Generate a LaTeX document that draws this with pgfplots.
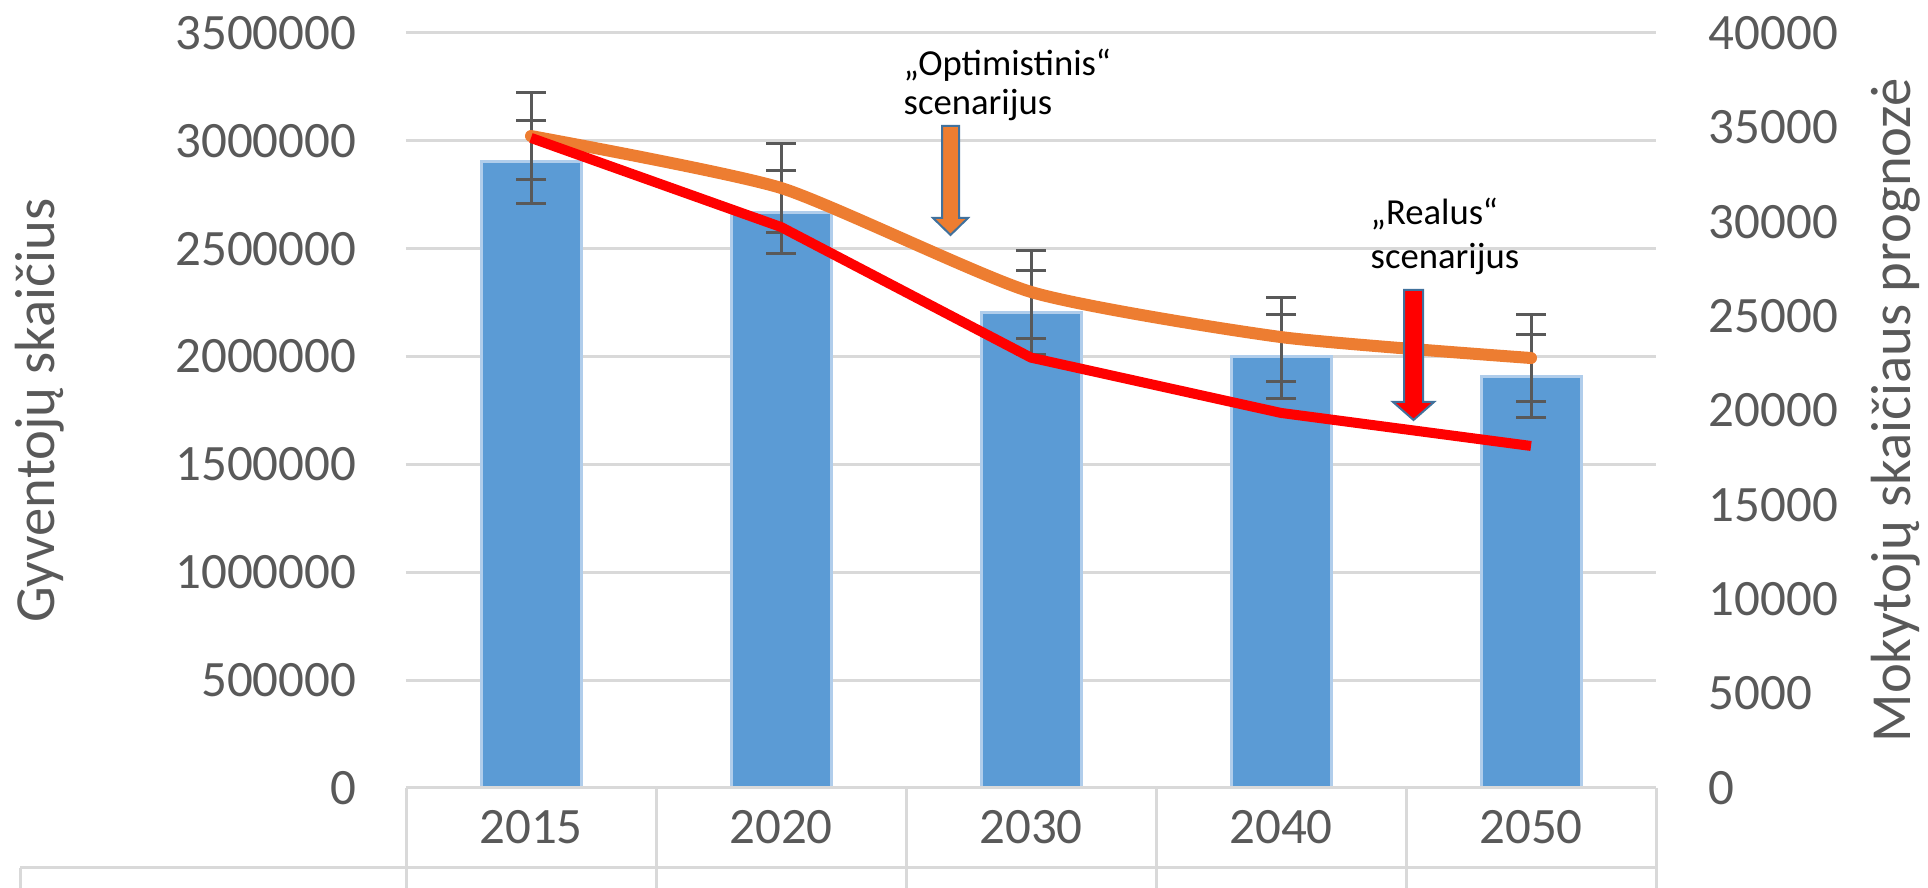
\documentclass[border=0pt]{standalone}
\usepackage{pgfplots}
\pgfplotsset{compat=1.18}
\usepackage{fontspec}
\setmainfont{Carlito}
\definecolor{barblue}{HTML}{5B9BD5}
\definecolor{barborder}{HTML}{B0CDEB}
\definecolor{orangeL}{HTML}{ED7D31}
\definecolor{tickgray}{HTML}{595959}
\definecolor{gridgray}{HTML}{D9D9D9}
\definecolor{ebgray}{HTML}{595959}
\definecolor{arrowblue}{HTML}{41719C}
\begin{document}
\begin{tikzpicture}
\useasboundingbox (0,0) rectangle (578.4pt,266.4pt);
% left axis: population (bars)
\begin{axis}[
  at={(121.8pt,30pt)}, anchor=south west,
  scale only axis, width=375pt, height=226.5pt,
  xmin=-0.5, xmax=4.5, ymin=0, ymax=3500000,
  scaled y ticks=false,
  axis line style={draw=none}, tick style={draw=none}, major tick length=0pt,
  ytick={0,500000,1000000,1500000,2000000,2500000,3000000,3500000},
  yticklabels={0,500000,1000000,1500000,2000000,2500000,3000000,3500000},
  xtick={0,1,2,3,4}, xticklabels={2015,2020,2030,2040,2050},
  ymajorgrids, grid style={color=gridgray, line width=0.9pt},
  ticklabel style={font=\fontsize{15.3}{18}\selectfont, text=tickgray},
  yticklabel style={anchor=east, inner sep=0pt, xshift=-14.7pt},
  xticklabel style={anchor=center, inner sep=0pt, yshift=-11.7pt},
  every axis y label/.style={at={(axis description cs:-0.2808,0.5)}, anchor=base, rotate=90,
     font=\fontsize{17}{20}\selectfont, text=tickgray},
  ylabel={Gyventojų skaičius},
]
\addplot[ybar, bar width=30pt, fill=barblue, draw=barborder, line width=0.9pt]
  coordinates {(0,2906000) (1,2670000) (2,2205000) (3,2001000) (4,1908000)};
\end{axis}
% right axis: teachers (lines)
\begin{axis}[
  at={(121.8pt,30pt)}, anchor=south west,
  scale only axis, width=375pt, height=226.5pt,
  xmin=-0.5, xmax=4.5, ymin=0, ymax=40000,
  scaled y ticks=false,
  axis x line=none, axis y line*=right,
  axis line style={draw=none}, tick style={draw=none}, major tick length=0pt,
  ytick={0,5000,10000,15000,20000,25000,30000,35000,40000},
  yticklabels={0,5000,10000,15000,20000,25000,30000,35000,40000},
  ticklabel style={font=\fontsize{15.3}{18}\selectfont, text=tickgray},
  yticklabel style={anchor=west, inner sep=0pt, xshift=15.6pt},
  every axis y label/.style={at={(axis description cs:1.2032,0.5)}, anchor=base, rotate=90,
     font=\fontsize{17}{20}\selectfont, text=tickgray},
  ylabel={Mokytojų skaičiaus prognozė},
]
\addplot[draw=none, mark=none, forget plot,
  error bars/.cd, y dir=both, y explicit,
  error bar style={draw=ebgray, solid, line width=0.9pt},
  error mark options={rotate=90, mark size=4.5pt, line width=0.9pt, draw=ebgray}]
  coordinates {(0,33930) +- (0,2940) (1,31230) +- (0,2890) (2,25720) +- (0,2780) (3,23310) +- (0,2700) (4,22380) +- (0,2730)};
\addplot[draw=none, mark=none, forget plot,
  error bars/.cd, y dir=both, y explicit,
  error bar style={draw=ebgray, solid, line width=0.9pt},
  error mark options={rotate=90, mark size=4.5pt, line width=0.9pt, draw=ebgray}]
  coordinates {(0,33780) +- (0,1560) (1,31070) +- (0,1620) (2,25640) +- (0,1800) (3,23310) +- (0,1800) (4,22250) +- (0,1775)};
\addplot[color=orangeL, line width=3.6pt, line cap=round, line join=round, smooth, tension=0.35, mark=none]
  coordinates {(0,34540) (1,31790) (2,26280) (3,23890) (4,22780)};
\addplot[color=red, line width=3pt, line join=round, mark=none]
  coordinates {(0,34440) (1,29720) (2,22800) (3,19870) (4,18120)};
\end{axis}
% annotations and data-table grid (pixel coordinates of the reference)
\begin{scope}[shift={(0,266.4pt)}, x=0.3pt, y=-0.3pt]
  \draw[gridgray, line width=0.9pt] (406,788) -- (1656,788);
  \foreach \xx in {406,656,906,1156,1406,1656} {\draw[gridgray, line width=0.9pt] (\xx,788) -- (\xx,888);}
  \draw[gridgray, line width=0.9pt] (20,868) -- (1656,868);
  \draw[gridgray, line width=0.9pt] (20,868) -- (20,888);
  \node[anchor=base west, inner sep=0pt, font=\fontsize{11}{13}\selectfont] at (903,76) {„Optimistinis“};
  \node[anchor=base west, inner sep=0pt, font=\fontsize{11}{13}\selectfont] at (903,115) {scenarijus};
  \node[anchor=base west, inner sep=0pt, font=\fontsize{11}{13}\selectfont] at (1370,225) {„Realus“};
  \node[anchor=base west, inner sep=0pt, font=\fontsize{11}{13}\selectfont] at (1370,269) {scenarijus};
  \draw[fill=orangeL, draw=arrowblue, line width=0.6pt] (942,126) -- (959,126) -- (959,218) -- (968,218) -- (950.5,235) -- (933,218) -- (942,218) -- cycle;
  \draw[fill=red, draw=arrowblue, line width=0.6pt] (1404,290) -- (1423,290) -- (1423,402) -- (1434,402) -- (1413.5,420) -- (1393,402) -- (1404,402) -- cycle;
\end{scope}
\end{tikzpicture}
\end{document}
